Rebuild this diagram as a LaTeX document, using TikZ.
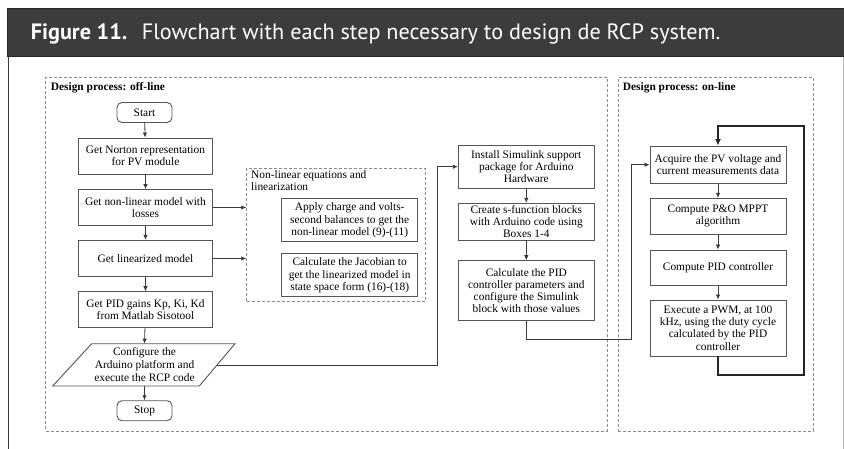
\documentclass[tikz,border=0pt]{standalone}
\usepackage{fontspec}
\setmainfont{Liberation Serif}
\newfontfamily\headfont{PT Sans}
\usetikzlibrary{arrows.meta}

\definecolor{headbg}{HTML}{3C3C3C}
\definecolor{headedge}{HTML}{262626}
\definecolor{boxedge}{HTML}{555555}
\definecolor{lineclr}{HTML}{3A3A3A}
\definecolor{groupedge}{HTML}{8C8C8C}
\definecolor{frameright}{HTML}{BBBBBB}

\begin{document}
\begin{tikzpicture}[x=1pt,y=-1pt,
  font=\fontsize{11.4}{12.2}\selectfont,
  stepbox/.style={draw=boxedge, line width=0.9pt, align=center, inner sep=1pt, minimum width=134pt},
  termbox/.style={draw=boxedge, line width=0.9pt, rounded corners=5pt, minimum width=55pt, minimum height=20pt, inner sep=0pt},
  group/.style={draw=groupedge, line width=0.9pt, dash pattern=on 3pt off 2pt, inner sep=0pt},
  grouplabel/.style={anchor=base west, inner sep=0pt, font=\bfseries\fontsize{11.4}{12.2}\selectfont},
  flow/.style={draw=lineclr, line width=0.8pt, -{Latex[length=5pt,width=4.5pt]}},
  loopline/.style={draw=black!85, line width=1.8pt, -{Latex[length=6.5pt,width=6pt]}},
]
\useasboundingbox (0,0) rectangle (844,449);

% caption bar and frame
\draw[draw=headedge, fill=headbg, line width=1.5pt] (7.5,8.5) rectangle (850,56.5);
\draw[lineclr, line width=1.5pt] (8.3,57) -- (8.3,455);
\draw[frameright, line width=0.8pt] (843.3,57) -- (843.3,455);
\node[anchor=base west, inner sep=0pt, text=white,
      font=\headfont\fontsize{22.2}{26}\selectfont] (caption) at (30.7,39.8)
  {\textbf{Figure 11.}\hspace{0.3em} Flowchart with each step necessary to design de RCP system.};

% group frames
\node[group, minimum width=561.3pt, minimum height=353.7pt] (offline) at (326.35,254.15) {};
\node[group, minimum width=195pt, minimum height=353.7pt] (online) at (715.8,254.15) {};
\node[group, minimum width=178.3pt, minimum height=133.4pt] (nlgroup) at (335.85,235) {};

\node[grouplabel] (offlabel) at (50.7,90.7) {Design process: off-line};
\node[grouplabel] (onlabel) at (622.7,90.7) {Design process: on-line};
\node[anchor=north west, inner sep=0pt, align=left] (nllabel) at (251,170.2)
  {Non-linear equations and\\linearization};

% off-line column
\node[termbox] (start) at (144.5,112.5) {Start};
\node[stepbox, minimum height=36pt] (norton) at (145.5,156) {Get Norton representation\\for PV module};
\node[stepbox, minimum height=36pt] (nonlin) at (145.5,207.5) {Get non-linear model with\\losses};
\node[stepbox, minimum height=36.4pt] (linmod) at (145.5,258.5) {Get linearized model};
\node[stepbox, minimum height=36pt] (gains) at (145.5,309.7) {Get PID gains Kp, Ki, Kd\\from Matlab Sisotool};

\coordinate (cfgTL) at (91.7,343.7);
\coordinate (cfgTR) at (235,343.7);
\coordinate (cfgBR) at (199.3,386);
\coordinate (cfgBL) at (52.7,386);
\coordinate (cfgTop) at (144.5,343.7);
\coordinate (cfgBot) at (144.5,386);
\coordinate (cfgR) at (217.2,365);
\draw[boxedge, line width=0.9pt] (cfgTL) -- (cfgTR) -- (cfgBR) -- (cfgBL) -- cycle;
\node[align=center, inner sep=0pt, font=\fontsize{11.4}{12.8}\selectfont] (config) at (144.5,364.8)
  {Configure the\\Arduino platform and\\execute the RCP code};

\node[termbox] (stop) at (144.5,410.7) {Stop};

% non-linear equations group
\node[stepbox, minimum width=136pt, minimum height=42.7pt] (balance) at (349.7,220.3)
  {Apply charge and volts-\\second balances to get the\\non-linear model (9)-(11)};
\node[stepbox, minimum width=136pt, minimum height=42.7pt] (jacobian) at (349.7,275.3)
  {Calculate the Jacobian to\\get the linearized model in\\state space form (16)-(18)};

% Simulink column
\node[stepbox, minimum width=136pt, minimum height=43.3pt] (install) at (526.3,166.7)
  {Install Simulink support\\package for Arduino\\Hardware};
\node[stepbox, minimum width=136pt, minimum height=36.7pt] (sfunc) at (526.3,221.7)
  {Create s-function blocks\\with Arduino code using\\Boxes 1-4};
\node[stepbox, minimum width=136pt, minimum height=60pt] (pidcalc) at (526.3,290.7)
  {Calculate the PID\\controller parameters and\\configure the Simulink\\block with those values};

% on-line column
\node[stepbox, minimum width=136pt, minimum height=37.3pt] (acquire) at (718,164.7)
  {Acquire the PV voltage and\\current measurements data};
\node[stepbox, minimum width=136pt, minimum height=36pt] (mppt) at (718,216.3)
  {Compute P\&O MPPT\\algorithm};
\node[stepbox, minimum width=136pt, minimum height=35pt] (pidctl) at (718,267.5)
  {Compute PID controller};
\node[stepbox, minimum width=136pt, minimum height=56pt] (pwm) at (718,328)
  {Execute a PWM, at 100\\kHz, using the duty cycle\\calculated by the PID\\controller};

% bends of the long connectors
\coordinate (jump) at (437.3,365);
\coordinate (handoff) at (631.7,339.3);
\coordinate (loopBR) at (804,375);
\coordinate (loopTL) at (718,125.7);

% off-line connectors
\draw[flow] (start) -- (norton);
\draw[flow] (norton) -- (nonlin);
\draw[flow] (nonlin) -- (linmod);
\draw[flow] (linmod) -- (gains);
\draw[flow] (gains) -- (cfgTop);
\draw[flow] (cfgBot) -- (stop);
\draw[flow] (nonlin.east) -- (nonlin.east -| nlgroup.west);
\draw[flow] (linmod.east) -- (linmod.east -| nlgroup.west);
\draw[flow] (cfgR) -- (jump) |- (install.west);
\draw[flow] (install) -- (sfunc);
\draw[flow] (sfunc) -- (pidcalc);
\draw[flow] (pidcalc.south) |- (handoff) |- (acquire.west);

% on-line connectors
\draw[flow] (acquire) -- (mppt);
\draw[flow] (mppt) -- (pidctl);
\draw[flow] (pidctl) -- (pwm);
\draw[loopline] (pwm.south) |- (loopBR) |- (loopTL) -- (acquire.north);
\end{tikzpicture}
\end{document}
